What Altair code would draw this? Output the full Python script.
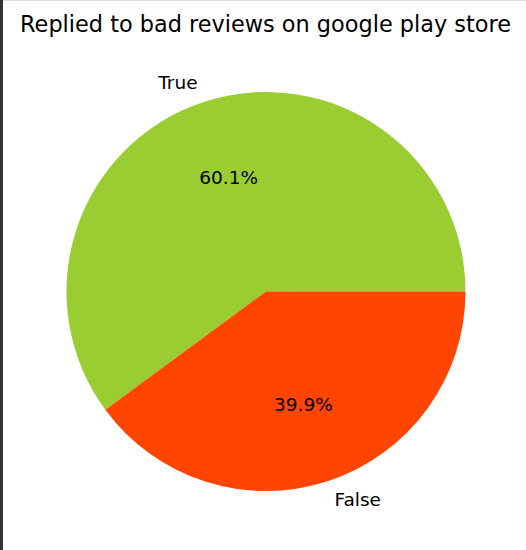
import math
import altair as alt
import pandas as pd

labels = ["True", "False"]
percents = [60.1, 39.9]
colors = ["#9ACD32", "#FF4500"]

df = pd.DataFrame({"label": labels, "value": percents})
df["pct"] = [f"{v:.1f}%" for v in percents]

CX, CY, R = 266, 291.5, 199.5
theta_scale = alt.Scale(domain=[0, 100], range=[math.pi / 2, math.pi / 2 + 2 * math.pi])

base = alt.Chart(df).encode(
    x=alt.value(CX),
    y=alt.value(CY),
)

arcs = base.mark_arc(radius=R).encode(
    theta=alt.Theta("value:Q", stack=True, scale=theta_scale),
    order=alt.Order("label:N", sort="ascending"),
    color=alt.Color("label:N", scale=alt.Scale(domain=labels, range=colors), legend=None),
)

mid = base.transform_window(
    cum="sum(value)", sort=[alt.SortField("label", order="ascending")]
).transform_calculate(
    mid="datum.cum - datum.value / 2"
).encode(
    theta=alt.Theta("mid:Q", stack=None, scale=theta_scale),
)

pct_text = mid.mark_text(radius=R * 0.6, font="DejaVu Sans", fontSize=18.5,
                         color="black", align="center", baseline="middle").encode(
    text="pct:N"
)

true_lbl = mid.transform_filter(alt.datum.label == "True").mark_text(
    radius=R * 1.1, font="DejaVu Sans", fontSize=18.5,
    color="black", align="right", baseline="middle").encode(text="label:N")

false_lbl = mid.transform_filter(alt.datum.label == "False").mark_text(
    radius=R * 1.1, font="DejaVu Sans", fontSize=18.5,
    color="black", align="left", baseline="middle").encode(text="label:N")

bar = alt.Chart(df).mark_rule(color="#333333", strokeWidth=3).encode(
    x=alt.value(1.5), y=alt.value(0), y2=alt.value(550)
)

chart = alt.layer(bar, arcs, pct_text, true_lbl, false_lbl).properties(
    width=526,
    height=550,
    padding=0,
    autosize=alt.AutoSizeParams(type="none"),
    title=alt.TitleParams(
        "Replied to bad reviews on google play store",
        font="DejaVu Sans", fontSize=22.4, fontWeight="normal", color="black",
        anchor="middle", baseline="alphabetic", offset=-33, dx=2.5, dy=23,
    ),
).configure_view(stroke=None).configure(background="white")

chart.save("out.html", embed_options={"renderer": "svg", "actions": False})
